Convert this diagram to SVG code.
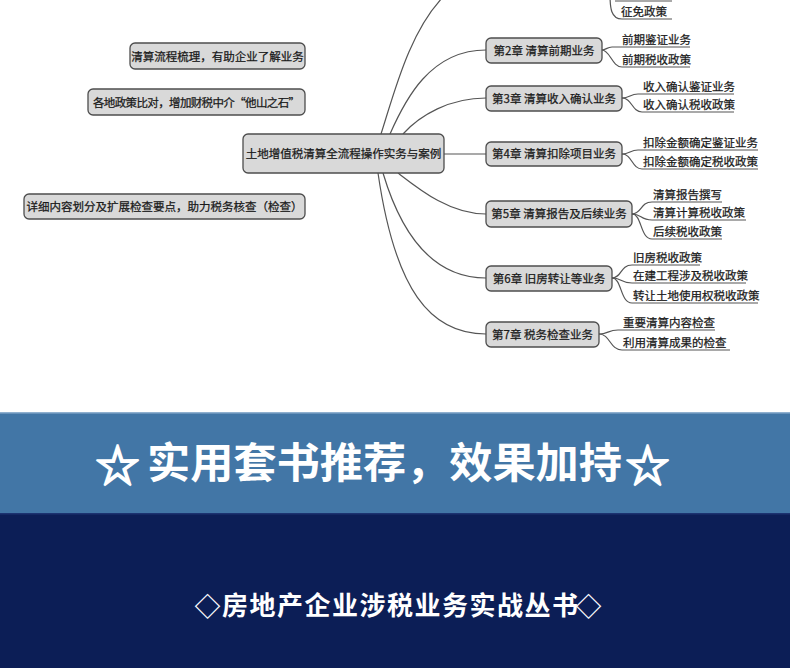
<svg xmlns="http://www.w3.org/2000/svg" width="790" height="668" viewBox="0 0 790 668">
<style>
.node rect{fill:#d9d9d9;stroke:#4d4d4d;stroke-width:1.3}
.t{font-family:"Noto Sans CJK SC","Noto Sans",sans-serif;font-size:11.5px;fill:#1a1a1a;stroke:#1a1a1a;stroke-width:0.25}
.c{text-anchor:middle}
.conn path{fill:none;stroke:#555;stroke-width:1.2}
.w{font-family:"Noto Sans CJK SC","Noto Sans",sans-serif;fill:#fff;font-weight:bold}
.s{stroke:#fff;stroke-width:1.8}
</style>
<rect x="0" y="0" width="790" height="668" fill="#fff"/>
<g class="conn">
<path d="M381,134 C395,90 410,30 445,-5"/>
<path d="M390,134 C405,100 430,50 486,50"/>
<path d="M403,134 C420,115 450,98 486,98"/>
<path d="M444,154 L486,154"/>
<path d="M398,173 C420,190 450,214 486,214"/>
<path d="M383,173 C400,230 430,278 486,278"/>
<path d="M378,173 C395,290 430,334 486,334"/>
<path d="M615,1 H672"/>
<path d="M610,-6 C610,8 611,19 622,19 H672"/>
<path d="M602,50 C606,50 607,47 612,47 H690"/>
<path d="M602,50 C610,50 612,67 622,67 H690"/>
<path d="M622,98 C630,98 630,94 638,94 H734"/>
<path d="M622,98 C632,98 632,112 642,112 H734"/>
<path d="M622,154 C630,154 630,150 638,150 H758"/>
<path d="M622,154 C632,154 632,169 642,169 H758"/>
<path d="M632,214 C642,214 640,202 652,202 H722"/>
<path d="M632,214 C642,214 640,220 652,220 H746"/>
<path d="M632,214 C642,214 640,239 652,239 H722"/>
<path d="M612,278 C622,278 620,265 632,265 H700"/>
<path d="M612,278 C622,278 620,283 632,283 H746"/>
<path d="M612,278 C622,278 620,303 632,303 H758"/>
<path d="M599,334 C608,334 608,330 618,330 H715"/>
<path d="M599,334 C610,334 610,350 622,350 H730"/>
</g>
<g id="note1" class="node"><rect x="130" y="43" width="175" height="26" rx="5"/><text class="t c" x="217.5" y="60.5">清算流程梳理，有助企业了解业务</text></g>
<g id="note2" class="node"><rect x="88" y="89" width="217" height="26" rx="5"/><text class="t c" x="196.5" y="106.5" textLength="207">各地政策比对，增加财税中介“他山之石”</text></g>
<g id="note3" class="node"><rect x="24" y="194" width="281" height="25" rx="5"/><text class="t c" x="164.5" y="211">详细内容划分及扩展检查要点，助力税务核查（检查）</text></g>
<g id="center" class="node"><rect x="243" y="134" width="201" height="39" rx="5"/><text class="t c" x="343.5" y="157.5">土地增值税清算全流程操作实务与案例</text></g>
<g id="ch2" class="node"><rect x="486" y="38" width="116" height="25" rx="5"/><text class="t c" x="544" y="54.5">第2章 清算前期业务</text></g>
<g id="ch3" class="node"><rect x="486" y="86" width="136" height="25" rx="5"/><text class="t c" x="554" y="102.5">第3章 清算收入确认业务</text></g>
<g id="ch4" class="node"><rect x="486" y="142" width="136" height="24" rx="5"/><text class="t c" x="554" y="158">第4章 清算扣除项目业务</text></g>
<g id="ch5" class="node"><rect x="486" y="201" width="146" height="26" rx="5"/><text class="t c" x="559" y="218">第5章 清算报告及后续业务</text></g>
<g id="ch6" class="node"><rect x="486" y="266" width="126" height="25" rx="5"/><text class="t c" x="549" y="282.5">第6章 旧房转让等业务</text></g>
<g id="ch7" class="node"><rect x="486" y="322" width="113" height="25" rx="5"/><text class="t c" x="542.5" y="338.5">第7章 税务检查业务</text></g>
<g id="leaves">
<text class="t" x="621" y="16">征免政策</text>
<text class="t" x="622" y="44">前期鉴证业务</text>
<text class="t" x="622" y="64">前期税收政策</text>
<text class="t" x="643" y="91">收入确认鉴证业务</text>
<text class="t" x="643" y="109">收入确认税收政策</text>
<text class="t" x="643" y="147">扣除金额确定鉴证业务</text>
<text class="t" x="643" y="166">扣除金额确定税收政策</text>
<text class="t" x="653" y="199">清算报告撰写</text>
<text class="t" x="653" y="217">清算计算税收政策</text>
<text class="t" x="653" y="236">后续税收政策</text>
<text class="t" x="633" y="262">旧房税收政策</text>
<text class="t" x="633" y="280">在建工程涉及税收政策</text>
<text class="t" x="633" y="300">转让土地使用权税收政策</text>
<text class="t" x="623" y="327">重要清算内容检查</text>
<text class="t" x="623" y="347">利用清算成果的检查</text>
</g>
<g id="banner1">
<rect x="0" y="412" width="790" height="101" fill="#4276a6"/>
<rect x="0" y="412" width="790" height="1.5" fill="#8fb0cf"/>
<text class="w c s" x="117.5" y="482" font-size="44">☆</text>
<text class="w" x="147" y="478" font-size="42" textLength="475" lengthAdjust="spacingAndGlyphs">实用套书推荐，效果加持</text>
<text class="w c s" x="647.5" y="482" font-size="44">☆</text>
</g>
<g id="banner2">
<rect x="0" y="513" width="790" height="155" fill="#0c1e56"/>
<rect x="0" y="513" width="790" height="1.5" fill="#1c3370"/>
<text class="w c" x="207.5" y="616" font-size="26">◇</text>
<text class="w" x="222" y="615" font-size="26" textLength="356">房地产企业涉税业务实战丛书</text>
<text class="w c" x="588.5" y="616" font-size="26">◇</text>
</g>
</svg>
